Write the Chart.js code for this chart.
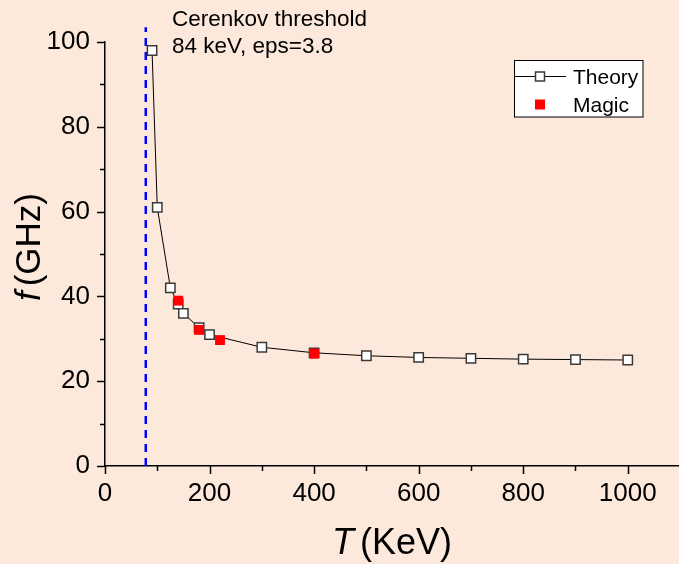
<!DOCTYPE html>
<html>
<head>
<meta charset="utf-8">
<script src="https://cdn.jsdelivr.net/npm/chart.js@4.4.0/dist/chart.umd.min.js"></script>
<style>
    html, body { margin: 0; padding: 0; background: #fde9db; }
    #wrap { width: 679px; height: 564px; }
</style>
</head>
<body>
<div id="wrap"><canvas id="freqChart" width="679" height="564"></canvas></div>
<script>
// Values
const theoryT = [90, 100, 125, 140, 150, 180, 200, 300, 400, 500, 600, 700, 800, 900, 1000];
const theoryF = [98, 61, 42, 38.2, 36, 32.6, 31, 28, 26.7, 26, 25.6, 25.4, 25.2, 25.1, 25];
const magicT = [140, 180, 220, 400];
const magicF = [39, 32.1, 29.7, 26.5];
const thresholdT = [78, 78];
const thresholdF = [0, 103.5];

const xTicks = [0, 200, 400, 600, 800, 1000];
const yTicks = [0, 20, 40, 60, 80, 100];
const noteLines = ['Cerenkov threshold', '84 keV, eps=3.8'];
const legendLabels = ['Theory', 'Magic'];

const BG = '#fde9db';
const FONT = '"Liberation Sans", Arial, sans-serif';

function toPoints(xs, ys) {
    return xs.map((x, i) => ({ x: x, y: ys[i] }));
}

function midpoints(values) {
    const out = [];
    for (let i = 0; i < values.length - 1; i++) {
        out.push((values[i] + values[i + 1]) / 2);
    }
    return out;
}

// page background
const background = {
    id: 'background',
    beforeDraw(chart) {
        const ctx = chart.ctx;
        ctx.save();
        ctx.fillStyle = BG;
        ctx.fillRect(0, 0, chart.width, chart.height);
        ctx.restore();
    }
};

// outward major + minor ticks like Origin
const tickMarks = {
    id: 'tickMarks',
    afterDraw(chart) {
        const { ctx, scales: { x, y } } = chart;
        ctx.save();
        ctx.strokeStyle = '#000';
        ctx.lineWidth = 1.5;
        ctx.beginPath();
        xTicks.forEach(v => {
            const px = Math.round(x.getPixelForValue(v)) + 0.5;
            ctx.moveTo(px, y.bottom); ctx.lineTo(px, y.bottom + 8);
        });
        midpoints(xTicks).forEach(v => {
            const px = Math.round(x.getPixelForValue(v)) + 0.5;
            ctx.moveTo(px, y.bottom); ctx.lineTo(px, y.bottom + 5);
        });
        yTicks.forEach(v => {
            const py = Math.round(y.getPixelForValue(v)) + 0.5;
            ctx.moveTo(x.left, py); ctx.lineTo(x.left - 8, py);
        });
        midpoints(yTicks).forEach(v => {
            const py = Math.round(y.getPixelForValue(v)) + 0.5;
            ctx.moveTo(x.left, py); ctx.lineTo(x.left - 5, py);
        });
        ctx.stroke();
        ctx.restore();
    }
};

// axis title: italic symbol, small gap, then unit in upright text
function drawMixed(ctx, symbol, unit, size, gap) {
    ctx.font = 'italic ' + size + 'px ' + FONT;
    const w1 = ctx.measureText(symbol).width;
    ctx.font = size + 'px ' + FONT;
    const w2 = ctx.measureText(unit).width;
    let cx = -(w1 + gap + w2) / 2;
    ctx.font = 'italic ' + size + 'px ' + FONT;
    ctx.fillText(symbol, cx, 0);
    ctx.font = size + 'px ' + FONT;
    ctx.fillText(unit, cx + w1 + gap, 0);
}

const axisTitles = {
    id: 'axisTitles',
    afterDraw(chart) {
        const { ctx, chartArea } = chart;
        ctx.save();
        ctx.fillStyle = '#000';
        ctx.textBaseline = 'alphabetic';
        ctx.textAlign = 'left';
        ctx.save();
        ctx.translate((chartArea.left + chartArea.right) / 2, 554);
        drawMixed(ctx, 'T', '(KeV)', 36, 6);
        ctx.restore();
        ctx.save();
        ctx.translate(40, 247);
        ctx.rotate(-Math.PI / 2);
        drawMixed(ctx, 'f', '(GHz)', 35, 5);
        ctx.restore();
        ctx.restore();
    }
};

// threshold note and boxed legend
const notes = {
    id: 'notes',
    afterDraw(chart) {
        const ctx = chart.ctx;
        const sets = chart.data.datasets;
        ctx.save();
        ctx.fillStyle = '#000';
        ctx.font = '22.5px ' + FONT;
        ctx.textAlign = 'left';
        ctx.textBaseline = 'alphabetic';
        ctx.fillText(noteLines[0], 172, 26);
        ctx.fillText(noteLines[1], 172, 53);

        // legend box
        ctx.fillStyle = '#fff';
        ctx.fillRect(514, 60.5, 129, 56.5);
        ctx.strokeStyle = '#000';
        ctx.lineWidth = 1;
        ctx.strokeRect(514.5, 60.5, 128.5, 56.5);

        const theory = sets[1];
        const magic = sets[0];
        ctx.strokeStyle = theory.borderColor;
        ctx.lineWidth = theory.borderWidth;
        ctx.beginPath();
        ctx.moveTo(514, 76.5); ctx.lineTo(566, 76.5);
        ctx.stroke();
        ctx.fillStyle = theory.pointBackgroundColor;
        ctx.fillRect(535.5, 72, 9, 9);
        ctx.strokeStyle = theory.pointBorderColor;
        ctx.lineWidth = theory.pointBorderWidth;
        ctx.strokeRect(535.5, 72, 9, 9);

        ctx.fillStyle = magic.backgroundColor;
        ctx.fillRect(535, 99.5, 10, 10);

        ctx.fillStyle = '#000';
        ctx.font = '21px ' + FONT;
        ctx.fillText(legendLabels[0], 573, 84.3);
        ctx.fillText(legendLabels[1], 573, 111.7);
        ctx.restore();
    }
};

const ctx = document.getElementById('freqChart').getContext('2d');

new Chart(ctx, {
    type: 'scatter',
    data: {
        datasets: [
            {
                label: legendLabels[1],
                data: toPoints(magicT, magicF),
                pointStyle: 'rect',
                pointRadius: 7,
                backgroundColor: '#ff0000',
                borderColor: '#ff0000',
                borderWidth: 0,
                showLine: false
            },
            {
                label: legendLabels[0],
                data: toPoints(theoryT, theoryF),
                showLine: true,
                borderColor: '#000000',
                borderWidth: 1,
                pointStyle: 'rect',
                pointRadius: 6.6,
                pointBackgroundColor: '#ffffff',
                pointBorderColor: '#3a3a3a',
                pointBorderWidth: 1.5,
                tension: 0
            },
            {
                label: 'threshold',
                data: toPoints(thresholdT, thresholdF),
                showLine: true,
                borderColor: '#0000ff',
                borderWidth: 2.5,
                borderDash: [8, 6],
                pointRadius: 0,
                clip: false
            }
        ]
    },
    options: {
        responsive: false,
        animation: false,
        events: [],
        layout: {
            autoPadding: false,
            padding: { top: 42, right: 0, left: 0, bottom: 0 }
        },
        plugins: {
            legend: { display: false },
            tooltip: { enabled: false }
        },
        scales: {
            x: {
                type: 'linear',
                min: 0,
                max: 1098,
                afterBuildTicks: s => { s.ticks = xTicks.map(v => ({ value: v })); },
                afterFit: s => {
                    s.height = 98;
                    s.paddingLeft = 0;
                    s.paddingRight = 0;
                },
                grid: { drawOnChartArea: false, drawTicks: false },
                border: { display: true, color: '#000', width: 1.5 },
                ticks: {
                    color: '#000',
                    font: { family: FONT, size: 26 },
                    padding: 12,
                    maxRotation: 0,
                    autoSkip: false,
                    callback: v => String(v)
                }
            },
            y: {
                type: 'linear',
                min: 0,
                max: 100,
                afterBuildTicks: s => { s.ticks = yTicks.map(v => ({ value: v })); },
                afterFit: s => {
                    s.width = 105;
                    s.paddingTop = 0;
                    s.paddingBottom = 0;
                },
                grid: { drawOnChartArea: false, drawTicks: false },
                border: { display: true, color: '#000', width: 1.5 },
                ticks: {
                    color: '#000',
                    font: { family: FONT, size: 26 },
                    padding: 15,
                    callback: v => String(v)
                }
            }
        }
    },
    plugins: [background, tickMarks, axisTitles, notes]
});
</script>
</body>
</html>
